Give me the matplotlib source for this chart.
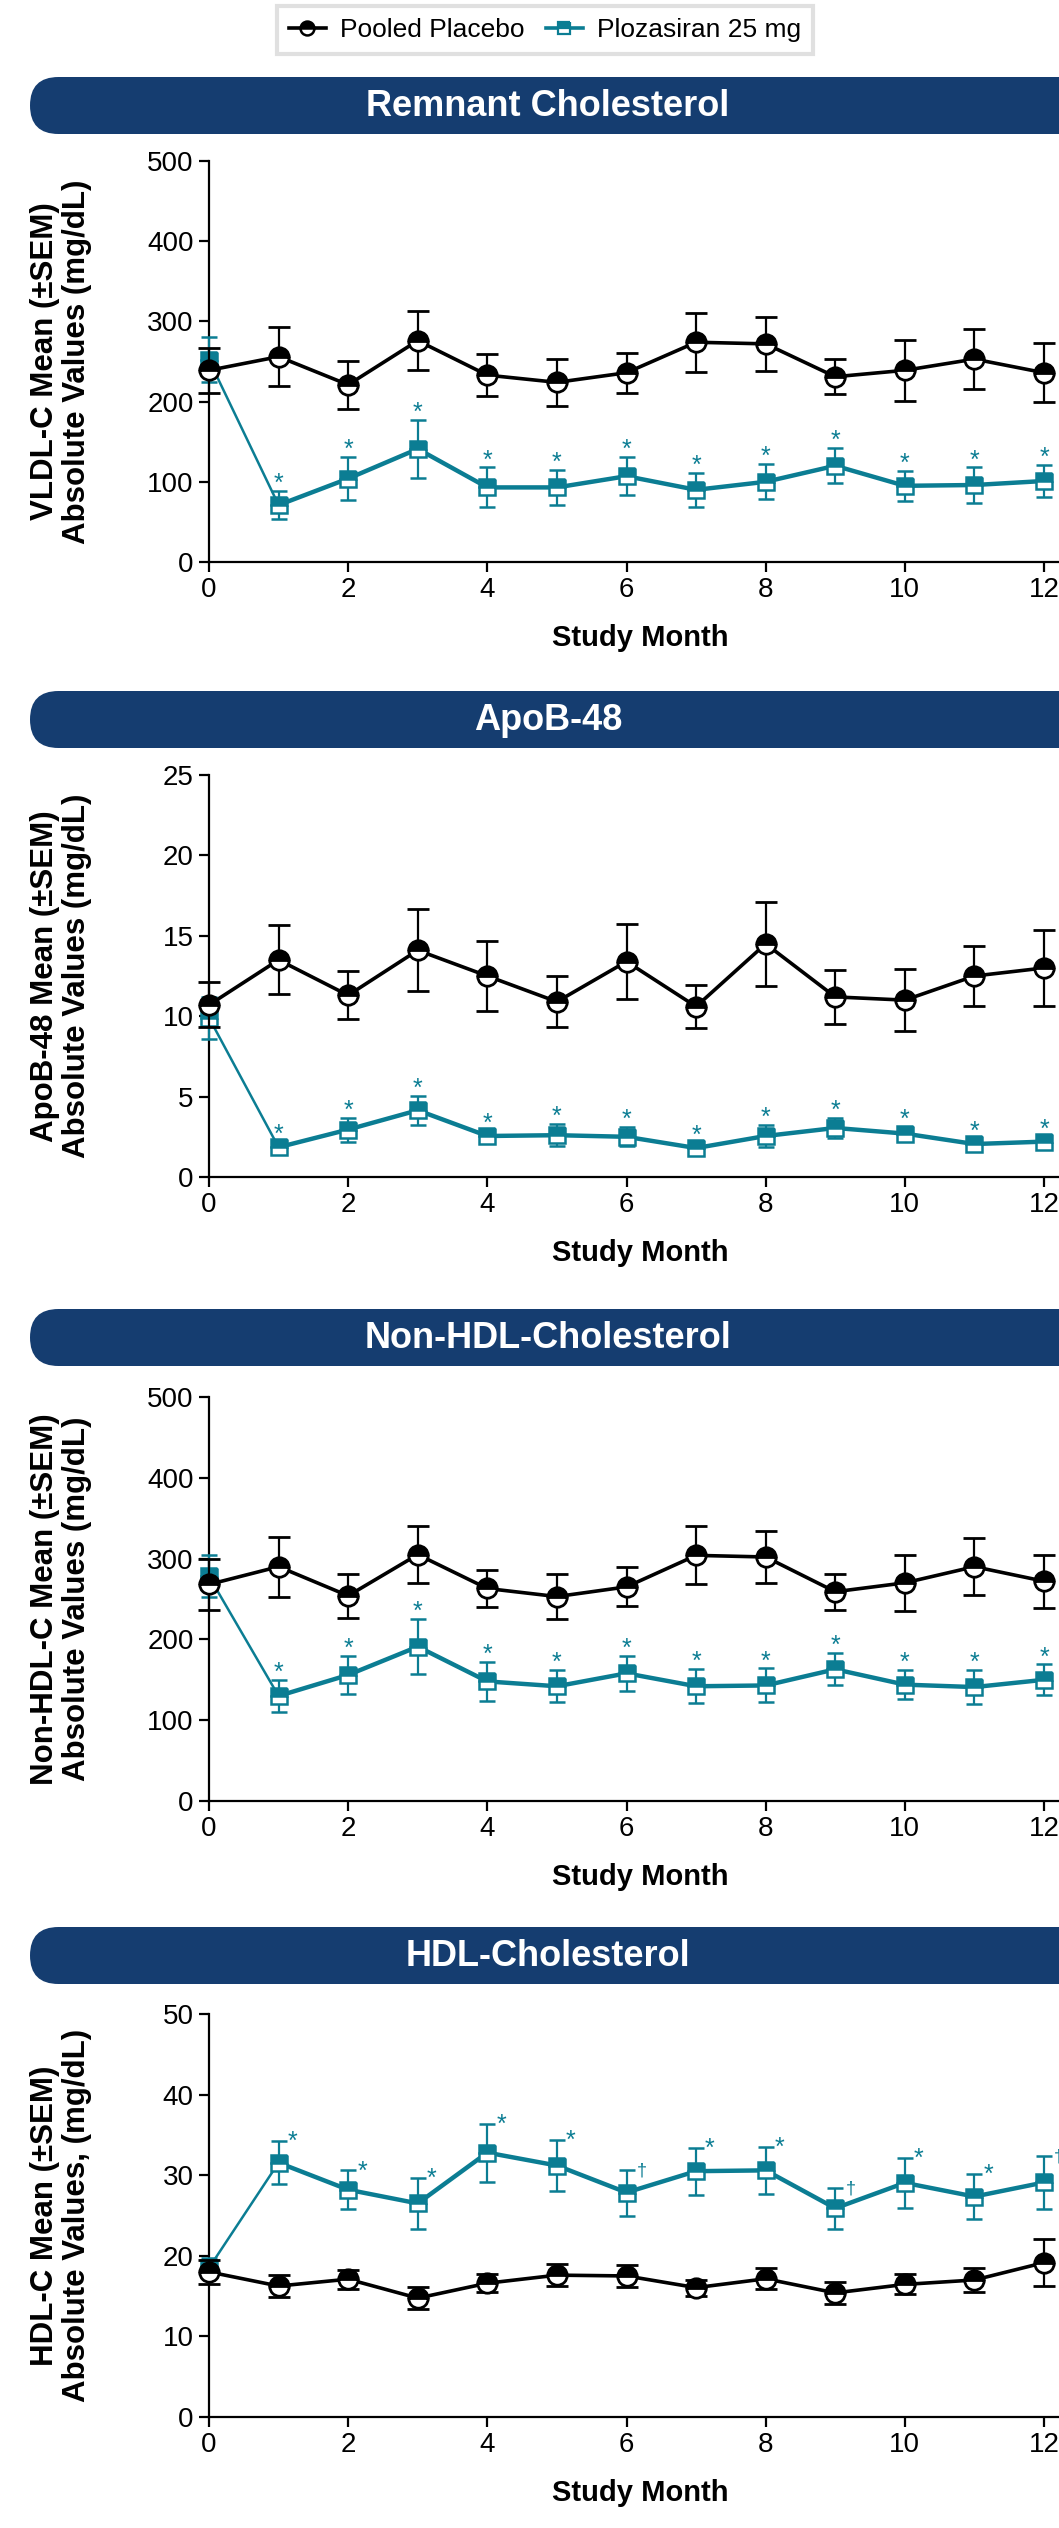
import numpy as np
import matplotlib.pyplot as plt
from matplotlib.patches import FancyBboxPatch
from matplotlib.lines import Line2D

plt.rcParams['font.family'] = ['Liberation Sans', 'DejaVu Sans']

# data
months = np.arange(13)

vldl_pbo = [239, 256, 221, 276, 233, 224, 236, 274, 272, 231, 239, 253, 236]
vldl_pbo_sem = [28, 37, 30, 37, 26, 29, 25, 37, 34, 22, 38, 37, 37]
vldl_ploz = [252, 71, 104, 141, 93, 93, 107, 90, 100, 120, 95, 96, 101]
vldl_ploz_sem = [28, 18, 27, 36, 25, 22, 24, 21, 22, 22, 19, 22, 20]

apob_pbo = [10.7, 13.5, 11.3, 14.1, 12.5, 10.9, 13.4, 10.6, 14.5, 11.2, 11.0, 12.5, 13.0]
apob_pbo_sem = [1.4, 2.15, 1.5, 2.55, 2.2, 1.6, 2.35, 1.35, 2.6, 1.7, 1.95, 1.85, 2.35]
apob_ploz = [9.9, 1.85, 2.95, 4.15, 2.55, 2.6, 2.5, 1.8, 2.55, 3.05, 2.7, 2.05, 2.2]
apob_ploz_sem = [1.3, 0.35, 0.75, 0.9, 0.35, 0.7, 0.6, 0.35, 0.7, 0.6, 0.4, 0.3, 0.3]

nonhdl_pbo = [268, 290, 254, 305, 263, 253, 265, 304, 302, 259, 270, 290, 272]
nonhdl_pbo_sem = [32, 37, 27, 35, 23, 28, 24, 36, 32, 22, 35, 35, 33]
nonhdl_ploz = [278, 130, 156, 191, 148, 142, 158, 142, 143, 163, 144, 141, 150]
nonhdl_ploz_sem = [26, 20, 24, 34, 24, 20, 22, 21, 21, 20, 18, 21, 19]

hdl_pbo = [18.0, 16.25, 17.1, 14.75, 16.6, 17.6, 17.5, 16.05, 17.15, 15.4, 16.45, 17.0, 19.15]
hdl_pbo_sem = [1.5, 1.4, 1.2, 1.4, 1.1, 1.4, 1.4, 1.0, 1.3, 1.4, 1.25, 1.5, 2.9]
hdl_ploz = [18.5, 31.55, 28.2, 26.5, 32.8, 31.2, 27.85, 30.5, 30.6, 25.9, 29.05, 27.35, 29.1]
hdl_ploz_sem = [1.2, 2.7, 2.4, 3.2, 3.6, 3.2, 2.85, 2.9, 2.9, 2.55, 3.1, 2.8, 3.3]

sig_all = ['', '*', '*', '*', '*', '*', '*', '*', '*', '*', '*', '*', '*']
sig_hdl = ['', '*', '*', '*', '*', '*', '\u2020', '*', '*', '\u2020', '*', '*', '\u2020']

titles = ['Remnant Cholesterol', 'ApoB-48', 'Non-HDL-Cholesterol', 'HDL-Cholesterol']
ylabels = ['VLDL-C Mean (\u00b1SEM)\nAbsolute Values (mg/dL)',
           'ApoB-48 Mean (\u00b1SEM)\nAbsolute Values (mg/dL)',
           'Non-HDL-C Mean (\u00b1SEM)\nAbsolute Values (mg/dL)',
           'HDL-C Mean (\u00b1SEM)\nAbsolute Values, (mg/dL)']
ymax = [500, 25, 500, 50]
ystep = [100, 5, 100, 10]

navy = '#153d70'
teal = '#0b7d93'

W, H = 1059, 2528
fig = plt.figure(figsize=(W / 100, H / 100), dpi=100)

# background axes in pixel units for the header bars
bg = fig.add_axes([0, 0, 1, 1])
bg.set_xlim(0, W)
bg.set_ylim(H, 0)
bg.axis('off')

header_top = [77, 691, 1309, 1927]
ax_top = [161, 775, 1397, 2014]
ax_bot = [562, 1177, 1801, 2417]

x0_px, x12_px = 209, 1044
px_per_month = (x12_px - x0_px) / 12
xmax = 12.4

panels = [
    (vldl_pbo, vldl_pbo_sem, vldl_ploz, vldl_ploz_sem, sig_all),
    (apob_pbo, apob_pbo_sem, apob_ploz, apob_ploz_sem, sig_all),
    (nonhdl_pbo, nonhdl_pbo_sem, nonhdl_ploz, nonhdl_ploz_sem, sig_all),
    (hdl_pbo, hdl_pbo_sem, hdl_ploz, hdl_ploz_sem, sig_hdl),
]

for i, (pbo, pbo_sem, ploz, ploz_sem, sig) in enumerate(panels):
    # header bar
    bar = FancyBboxPatch((30, header_top[i]), 1100, 57,
                         boxstyle='round,pad=0,rounding_size=28.5',
                         facecolor=navy, edgecolor='none')
    bg.add_patch(bar)
    bg.text(548, header_top[i] + 29, titles[i], color='white', fontsize=26,
            fontweight='bold', ha='center', va='center')

    left = x0_px / W
    width = xmax * px_per_month / W
    bottom = 1 - ax_bot[i] / H
    height = (ax_bot[i] - ax_top[i]) / H
    ax = fig.add_axes([left, bottom, width, height])

    # plozasiran
    ax.plot(months[:2], ploz[:2], color=teal, lw=1.8, zorder=2, clip_on=False)
    ax.plot(months[1:], ploz[1:], color=teal, lw=3.2, zorder=2, clip_on=False)
    ax.errorbar(months, ploz, yerr=ploz_sem, fmt='s', color=teal,
                ms=12, mfc=teal, mfcalt='white', fillstyle='top',
                mec=teal, mew=1.8, elinewidth=1.6, capsize=6, capthick=1.6,
                zorder=3, clip_on=False)

    # placebo
    ax.plot(months, pbo, color='black', lw=2.6, zorder=4, clip_on=False)
    ax.errorbar(months, pbo, yerr=pbo_sem, fmt='o', color='black',
                ms=14, mfc='black', mfcalt='white', fillstyle='top',
                mec='black', mew=2, elinewidth=1.6, capsize=8, capthick=1.6,
                zorder=5, clip_on=False)

    # significance markers
    for m in months:
        s = sig[m]
        if not s:
            continue
        top = ploz[m] + ploz_sem[m]
        if i == 3:
            if s == '*':
                ax.annotate(s, (m, top), xytext=(10, -6), textcoords='offset points',
                            ha='center', va='baseline', color=teal, fontsize=18,
                            annotation_clip=False)
            else:
                ax.annotate(s, (m, top), xytext=(11, -4), textcoords='offset points',
                            ha='center', va='baseline', color=teal, fontsize=13,
                            annotation_clip=False)
        else:
            ax.annotate(s, (m, top), xytext=(0, 0), textcoords='offset points',
                        ha='center', va='baseline', color=teal, fontsize=18,
                        annotation_clip=False)

    ax.set_xlim(0, xmax)
    ax.set_ylim(0, ymax[i])
    ax.set_xticks(np.arange(0, 13, 2))
    ax.set_yticks(np.arange(0, ymax[i] + 0.1, ystep[i]))
    ax.spines['top'].set_visible(False)
    ax.spines['right'].set_visible(False)
    ax.spines['left'].set_linewidth(1.6)
    ax.spines['bottom'].set_linewidth(1.6)
    ax.tick_params(direction='out', length=7, width=1.6, labelsize=20, pad=4)
    ax.set_facecolor('none')
    ax.set_xlabel('Study Month', fontsize=21, fontweight='bold', labelpad=15)

    fig.text(61 / W, 1 - (ax_top[i] + ax_bot[i]) / 2 / H, ylabels[i],
             rotation=90, ha='center', va='center', multialignment='center',
             fontsize=22.5, fontweight='bold', linespacing=1.05)

# legend
handles = [
    Line2D([], [], color='black', lw=2.6, marker='o', ms=10, mfc='black',
           markerfacecoloralt='white', fillstyle='top', mec='black', mew=1.8),
    Line2D([], [], color=teal, lw=2.6, marker='s', ms=9, mfc=teal,
           markerfacecoloralt='white', fillstyle='top', mec=teal, mew=1.6),
]
leg = fig.legend(handles, ['Pooled Placebo', 'Plozasiran 25 mg'], ncol=2,
                 loc='center', bbox_to_anchor=(545 / W, 1 - 30 / H),
                 fontsize=19, frameon=True, fancybox=False, handlelength=1.4,
                 handletextpad=0.55, columnspacing=0.8, borderpad=0.45)
leg.get_frame().set_edgecolor('#d9d9d9')
leg.get_frame().set_linewidth(3)

fig.savefig('out.png', dpi=100)
